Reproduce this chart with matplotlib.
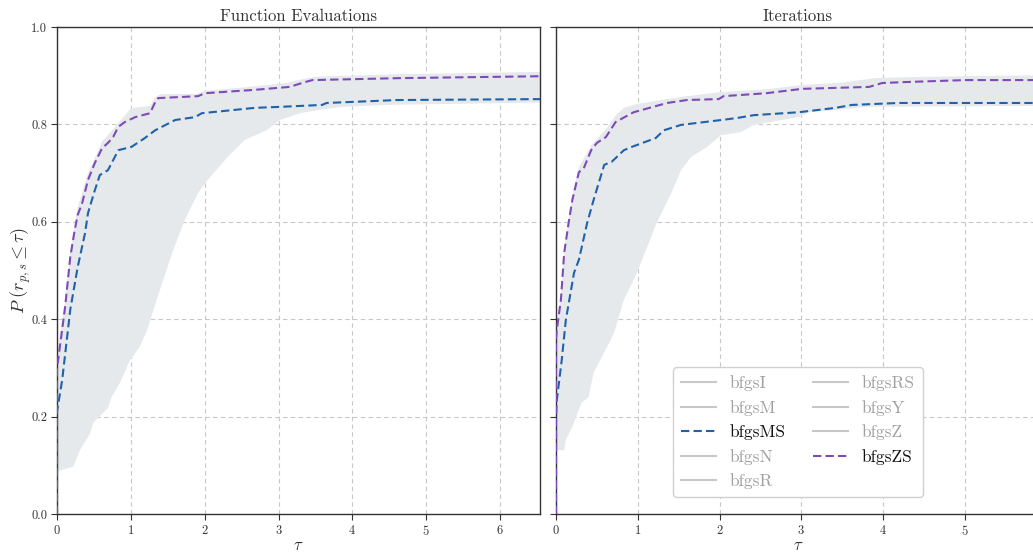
import matplotlib
matplotlib.use("Agg")
import matplotlib.pyplot as plt
from matplotlib.lines import Line2D

plt.rcParams['font.family'] = 'serif'
plt.rcParams['font.serif'] = ['cmr10']
plt.rcParams['mathtext.fontset'] = 'cm'
plt.rcParams['axes.unicode_minus'] = False
plt.rcParams['axes.formatter.use_mathtext'] = True

# ---- data: function evaluations ----
fe_ms_tau = [0, 0, 0.07, 0.18, 0.28, 0.38, 0.42, 0.50, 0.58, 0.69, 0.83, 1.01, 1.19, 1.33,
             1.60, 1.87, 1.96, 2.68, 3.02, 3.59, 3.65, 4.60, 6.6]
fe_ms_p = [0, 0.21, 0.275, 0.42, 0.507, 0.577, 0.618, 0.659, 0.696, 0.706, 0.747, 0.754,
           0.772, 0.788, 0.809, 0.815, 0.823, 0.834, 0.836, 0.840, 0.844, 0.850, 0.852]
fe_zs_tau = [0, 0, 0.01, 0.11, 0.18, 0.24, 0.28, 0.34, 0.42, 0.51, 0.61, 0.69, 0.76, 0.83,
             0.92, 1.06, 1.26, 1.33, 1.37, 1.91, 2.0, 2.68, 3.15, 3.36, 3.46, 4.64, 6.6]
fe_zs_p = [0, 0.30, 0.31, 0.425, 0.528, 0.583, 0.614, 0.638, 0.686, 0.72, 0.751, 0.762,
           0.774, 0.795, 0.805, 0.815, 0.823, 0.846, 0.854, 0.858, 0.864, 0.871, 0.877,
           0.887, 0.891, 0.895, 0.899]
fe_lo_tau = [0, 0, 0.05, 0.22, 0.31, 0.45, 0.49, 0.69, 0.74, 0.85, 0.99, 1.12, 1.22, 1.35,
             1.56, 1.73, 1.91, 2.04, 2.31, 2.54, 2.84, 3.02, 3.29, 3.56, 3.87, 4.47, 6.6]
fe_lo_p = [0, 0.086, 0.09, 0.097, 0.131, 0.166, 0.187, 0.218, 0.24, 0.269, 0.316, 0.343,
           0.378, 0.44, 0.536, 0.604, 0.659, 0.686, 0.733, 0.768, 0.788, 0.809, 0.823,
           0.830, 0.836, 0.840, 0.845]
fe_hi_tau = [0, 0, 0.01, 0.11, 0.18, 0.28, 0.42, 0.51, 0.61, 0.76, 0.9, 1.0, 1.26, 1.33,
             1.4, 1.9, 2.0, 2.6, 3.1, 3.36, 3.5, 4.6, 6.6]
fe_hi_p = [0, 0.33, 0.34, 0.44, 0.54, 0.63, 0.70, 0.73, 0.765, 0.79, 0.815, 0.833, 0.838,
           0.856, 0.862, 0.863, 0.869, 0.877, 0.885, 0.894, 0.898, 0.903, 0.908]

# ---- data: iterations ----
it_ms_tau = [0, 0, 0.01, 0.07, 0.12, 0.22, 0.28, 0.38, 0.46, 0.59, 0.68, 0.83, 0.93, 1.22,
             1.32, 1.53, 2.02, 2.21, 2.42, 2.97, 3.42, 3.62, 4.19, 6.0]
it_ms_p = [0, 0.20, 0.234, 0.316, 0.398, 0.495, 0.522, 0.597, 0.645, 0.717, 0.723, 0.747,
           0.754, 0.772, 0.788, 0.799, 0.809, 0.813, 0.819, 0.825, 0.834, 0.840, 0.844, 0.844]
it_zs_tau = [0, 0, 0.01, 0.06, 0.10, 0.16, 0.20, 0.28, 0.34, 0.43, 0.50, 0.61, 0.73, 0.95,
             1.36, 1.60, 1.99, 2.05, 2.57, 3.01, 3.83, 3.99, 4.28, 5.01, 6.0]
it_zs_p = [0, 0.36, 0.378, 0.44, 0.536, 0.604, 0.645, 0.702, 0.71, 0.747, 0.762, 0.774,
           0.805, 0.825, 0.844, 0.850, 0.852, 0.858, 0.864, 0.873, 0.877, 0.885, 0.887,
           0.891, 0.891]
it_lo_tau = [0, 0, 0.10, 0.12, 0.20, 0.31, 0.40, 0.46, 0.65, 0.71, 0.83, 0.99, 1.23, 1.41,
             1.53, 1.65, 1.85, 2.02, 2.26, 2.42, 2.97, 3.09, 3.46, 3.79, 6.0]
it_lo_p = [0, 0.131, 0.131, 0.152, 0.179, 0.228, 0.24, 0.29, 0.351, 0.372, 0.44, 0.495,
           0.597, 0.659, 0.706, 0.733, 0.754, 0.778, 0.784, 0.799, 0.815, 0.825, 0.830,
           0.836, 0.838]
it_hi_tau = [0, 0, 0.06, 0.10, 0.16, 0.20, 0.28, 0.43, 0.61, 0.73, 0.83, 0.99, 1.36, 1.60,
             2.0, 2.57, 3.01, 3.5, 3.9, 4.3, 5.0, 6.0]
it_hi_p = [0, 0.38, 0.45, 0.545, 0.612, 0.655, 0.712, 0.757, 0.79, 0.818, 0.834, 0.842,
           0.852, 0.858, 0.866, 0.872, 0.881, 0.886, 0.895, 0.897, 0.899, 0.901]

solvers = ['bfgsI', 'bfgsM', 'bfgsMS', 'bfgsN', 'bfgsR', 'bfgsRS', 'bfgsY', 'bfgsZ', 'bfgsZS']
highlight = {'bfgsMS': '#1f62aa', 'bfgsZS': '#7d4bb5'}

band_color = '#e6e9ec'
grid_color = '#c8c8c8'
spine_color = '#333333'

fig = plt.figure(figsize=(10.33, 5.52), dpi=100)
ax1 = fig.add_axes([57 / 1033, 38 / 552, 483 / 1033, 487 / 552])
ax2 = fig.add_axes([556 / 1033, 38 / 552, 484 / 1033, 487 / 552], sharey=ax1)

panels = [
    (ax1, 'Function Evaluations', fe_lo_tau, fe_lo_p, fe_hi_tau, fe_hi_p,
     fe_ms_tau, fe_ms_p, fe_zs_tau, fe_zs_p, 6.54, range(0, 7)),
    (ax2, 'Iterations', it_lo_tau, it_lo_p, it_hi_tau, it_hi_p,
     it_ms_tau, it_ms_p, it_zs_tau, it_zs_p, 5.92, range(0, 6)),
]

for ax, title, lo_t, lo_p, hi_t, hi_p, ms_t, ms_p, zs_t, zs_p, xmax, xt in panels:
    # band between lowest and highest profile
    ax.fill(hi_t + lo_t[::-1], hi_p + lo_p[::-1], color=band_color, lw=0, zorder=1)
    ax.plot(ms_t, ms_p, color=highlight['bfgsMS'], ls=(0, (4, 2)), lw=1.5, zorder=3)
    ax.plot(zs_t, zs_p, color=highlight['bfgsZS'], ls=(0, (4, 2)), lw=1.5, zorder=3)
    ax.set_xlim(0, xmax)
    ax.set_ylim(0, 1)
    ax.set_title(title, fontsize=12, color='#333333', pad=4)
    ax.set_xlabel(r'$\tau$', fontsize=12, color='#333333', labelpad=0)
    ax.grid(True, ls=(0, (4, 3)), color=grid_color, lw=0.8)
    ax.set_axisbelow(True)
    ax.set_xticks(list(xt))
    ax.set_yticks([0, 0.2, 0.4, 0.6, 0.8, 1.0])
    ax.tick_params(labelsize=9, colors='#333333', length=4, width=0.8, pad=3)
    for s in ax.spines.values():
        s.set_color(spine_color)
        s.set_linewidth(1.0)

ax1.set_ylabel(r'$P\ (r_{p,s} \leq \tau)$', fontsize=13, color='#333333', labelpad=-1)
ax1.set_yticklabels(['0.0', '0.2', '0.4', '0.6', '0.8', '1.0'])
plt.setp(ax2.get_yticklabels(), visible=False)

handles = []
for name in solvers:
    if name in highlight:
        handles.append(Line2D([], [], color=highlight[name], ls=(0, (4, 2)), lw=1.5))
    else:
        handles.append(Line2D([], [], color='#c8c8c8', lw=1.5))
leg = ax2.legend(handles, solvers, ncol=2, loc='lower right',
                 bbox_to_anchor=(0.758, 0.035), borderaxespad=0, fontsize=12.5,
                 frameon=True, fancybox=True, framealpha=1, edgecolor='#d0d0d0',
                 handlelength=2.0, handletextpad=0.8, columnspacing=1.6,
                 labelspacing=0.5, borderpad=0.45)
for txt, name in zip(leg.get_texts(), solvers):
    txt.set_color('#111111' if name in highlight else '#a0a0a0')

fig.savefig('out.png', dpi=100)
